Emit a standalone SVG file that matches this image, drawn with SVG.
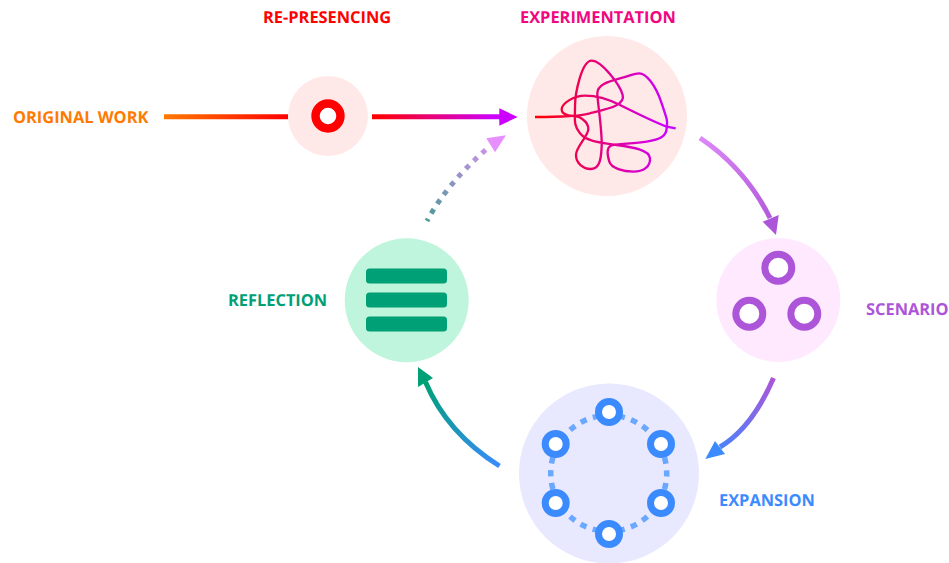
<svg xmlns="http://www.w3.org/2000/svg" width="949" height="563" viewBox="0 0 949 563">
<style>
text{font-family:"Open Sans","Noto Sans",sans-serif;font-weight:700;font-size:16.4px;text-rendering:geometricPrecision}
.c{fill:none;stroke-width:5}
.e{fill:#fff;stroke:#3b8bff;stroke-width:7}
.s{fill:#fff;stroke:#ad55d8;stroke-width:7}
.b{fill:#00a077}
</style>
<defs>
<linearGradient id="g1" gradientUnits="userSpaceOnUse" x1="164" y1="0" x2="288" y2="0"><stop offset="0" stop-color="#ff7a00"/><stop offset="1" stop-color="#ff0000"/></linearGradient>
<linearGradient id="g2" gradientUnits="userSpaceOnUse" x1="375" y1="0" x2="495" y2="0"><stop offset="0" stop-color="#ff0000"/><stop offset="1" stop-color="#cc00ff"/></linearGradient>
<linearGradient id="g3" gradientUnits="userSpaceOnUse" x1="700" y1="138" x2="775" y2="232"><stop offset="0" stop-color="#dd88f8"/><stop offset="1" stop-color="#ad55d8"/></linearGradient>
<linearGradient id="g4" gradientUnits="userSpaceOnUse" x1="775" y1="378" x2="707" y2="458"><stop offset="0" stop-color="#ad55d8"/><stop offset="1" stop-color="#3b8bff"/></linearGradient>
<linearGradient id="g5" gradientUnits="userSpaceOnUse" x1="500" y1="466" x2="425" y2="385"><stop offset="0" stop-color="#3b8bff"/><stop offset="1" stop-color="#00a077"/></linearGradient>
<linearGradient id="g6" gradientUnits="userSpaceOnUse" x1="428" y1="219" x2="505" y2="135"><stop offset="0" stop-color="#4f9a96"/><stop offset="1" stop-color="#e78fff"/></linearGradient>
<linearGradient id="g7" gradientUnits="userSpaceOnUse" x1="45" y1="0" x2="440" y2="0"><stop offset="0" stop-color="#ff0000"/><stop offset="1" stop-color="#cc00ff"/></linearGradient>
</defs>
<g id="node-represencing"><circle cx="328" cy="116" r="40" fill="#ffe8e8"/><circle cx="328" cy="116" r="12.5" fill="#fff" stroke="#f00" stroke-width="8.4"/><text x="263" y="23.3" fill="#f00">RE-PRESENCING</text></g>
<g id="node-experimentation"><circle cx="607" cy="116" r="80" fill="#ffe8e8"/>
<path transform="translate(520 30) scale(.33333)" fill="none" stroke="url(#g7)" stroke-width="7" d="M45 261C80 261 120 260 150 258S205 275 205 297S168 350 168 375S190 417 212 417S243 400 245 350S232 215 232 190S262 155 300 145S340 130 358 130S405 160 425 220S442 270 440 295S420 328 380 335S285 340 272 347S262 375 268 395S310 425 340 425S392 410 390 385S340 352 290 345S200 335 180 310S165 270 165 230S185 92 215 92S300 165 308 195S270 235 210 250S125 255 125 238S160 197 195 197S260 205 300 225S400 275 440 290L467 295"/>
<text x="520" y="23.3" fill="#f0067f">EXPERIMENTATION</text></g>
<g id="node-scenario"><circle cx="778.3" cy="300" r="62" fill="#ffe9ff"/><circle class="s" cx="778.3" cy="267.7" r="13.5"/><circle class="s" cx="749.3" cy="313.7" r="13.5"/><circle class="s" cx="804.3" cy="313.7" r="13.5"/><text x="866" y="315.3" fill="#ad55d8">SCENARIO</text></g>
<g id="node-expansion"><circle cx="609" cy="473.5" r="90" fill="#e8e8ff"/><circle cx="608.7" cy="473.3" r="58" fill="none" stroke="#6aa8ff" stroke-width="5.5" stroke-dasharray="6.5 6.5" stroke-dashoffset="3.25"/>
<circle class="e" cx="609" cy="412" r="10.5"/><circle class="e" cx="555.7" cy="444" r="10.5"/><circle class="e" cx="661" cy="444" r="10.5"/><circle class="e" cx="555.7" cy="503" r="10.5"/><circle class="e" cx="661" cy="503" r="10.5"/><circle class="e" cx="609" cy="534" r="10.5"/><text x="719" y="506.3" fill="#3b8bff">EXPANSION</text></g>
<g id="node-reflection"><circle cx="406.7" cy="300.2" r="62" fill="#bef5dc"/><rect class="b" x="366" y="268.5" width="81" height="15" rx="3.5"/><rect class="b" x="366" y="292.5" width="81" height="15" rx="3.5"/><rect class="b" x="366" y="316.5" width="81" height="15" rx="3.5"/><text x="228" y="306.3" fill="#00a077">REFLECTION</text></g>
<g id="node-original"><text x="13" y="122.5" fill="#ff7a00">ORIGINAL WORK</text></g>
<g id="connectors">
<path class="c" stroke="url(#g1)" d="M164 116.8H288"/>
<path class="c" stroke="url(#g2)" d="M372 116.8H501"/>
<path fill="#cc00ff" d="M499.3 108.3L517.7 117L499.3 125.7Z"/>
<path class="c" stroke="url(#g3)" d="M700 138Q745 168 770 218"/>
<path fill="#ad55d8" d="M762.7 221.7L778.7 215L776 235Z"/>
<path class="c" stroke="url(#g4)" d="M773.5 378Q752 428 720 447"/>
<path fill="#3b8bff" d="M715 441L725 454L705.3 459Z"/>
<path class="c" stroke="url(#g5)" d="M499.5 466Q447 433 425.5 382"/>
<path fill="#00a077" d="M418 367L433 378L418 387Z"/>
<path class="c" stroke="url(#g6)" stroke-dasharray="5 6.3" stroke-dashoffset="2.5" d="M427 221Q447.5 182.5 490 146"/>
<path fill="#e78fff" d="M506 135.3L495 152.3L486.3 138.3Z"/>
</g>
</svg>
